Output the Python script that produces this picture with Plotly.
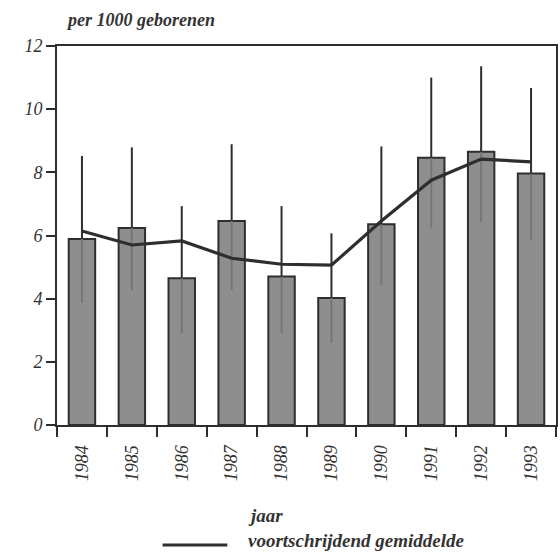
import plotly.graph_objects as go

years = ["1984", "1985", "1986", "1987", "1988", "1989", "1990", "1991", "1992", "1993"]
rate = [5.89, 6.24, 4.65, 6.46, 4.70, 4.02, 6.36, 8.46, 8.65, 7.96]
upper = [8.52, 8.79, 6.93, 8.89, 6.93, 6.07, 8.82, 11.00, 11.36, 10.67]
lower = [3.86, 4.27, 2.91, 4.27, 2.91, 2.60, 4.43, 6.23, 6.42, 5.85]
moving_avg = [6.14, 5.70, 5.83, 5.28, 5.09, 5.06, 6.46, 7.75, 8.42, 8.33]
y_ticks = [0, 2, 4, 6, 8, 10, 12]

FONT = "Liberation Serif, serif"
DARK = "#2e2e2e"

W, H = 560, 558
L, R, T, B = 57, 2, 46, 133
PW, PH = W - L - R, H - T - B


def px_x(p):
    return (p - L) / PW


def px_y(p):
    return (H - B - p) / PH


fig = go.Figure()

fig.add_trace(go.Bar(
    x=years, y=rate, width=0.53,
    marker=dict(color="#8e8e8e", line=dict(color=DARK, width=2)),
    showlegend=False, hoverinfo="skip",
))

# lower part of the interval (faint, inside the bar)
fig.add_trace(go.Scatter(
    x=years, y=rate, mode="markers",
    marker=dict(size=1, color="rgba(0,0,0,0)"),
    error_y=dict(type="data", symmetric=False,
                 array=[0] * len(rate),
                 arrayminus=[r - l for r, l in zip(rate, lower)],
                 color="#767676", thickness=2, width=0),
    showlegend=False, hoverinfo="skip",
))

# upper part of the interval
fig.add_trace(go.Scatter(
    x=years, y=rate, mode="markers",
    marker=dict(size=1, color="rgba(0,0,0,0)"),
    error_y=dict(type="data", symmetric=False,
                 array=[u - r for u, r in zip(upper, rate)],
                 arrayminus=[0] * len(rate),
                 color=DARK, thickness=2, width=0),
    showlegend=False, hoverinfo="skip",
))

fig.add_trace(go.Scatter(
    x=years, y=moving_avg, mode="lines",
    line=dict(color=DARK, width=3.2),
    name="voortschrijdend gemiddelde", showlegend=False, hoverinfo="skip",
))

fig.update_layout(
    width=W, height=H,
    margin=dict(l=L, r=R, t=T, b=B),
    paper_bgcolor="white", plot_bgcolor="white",
    font=dict(family=FONT, color="#333333"),
    xaxis=dict(
        type="category", range=[-0.5, 9.5],
        tickson="boundaries", ticks="outside", ticklen=10, tickwidth=1.5,
        tickcolor=DARK, tickangle=-90, ticklabelstandoff=11,
        tickfont=dict(family=FONT, size=18, style="italic", color="#333333"),
        showline=True, linecolor=DARK, linewidth=2, mirror=True,
        showgrid=False, zeroline=False,
    ),
    yaxis=dict(
        range=[0, 12], tickvals=y_ticks,
        ticks="outside", ticklen=9, tickwidth=1.5, tickcolor=DARK,
        tickfont=dict(family=FONT, size=18, style="italic", color="#333333"),
        showline=True, linecolor=DARK, linewidth=2, mirror=True,
        showgrid=False, zeroline=False,
    ),
    annotations=[
        dict(text="per 1000 geborenen", xref="paper", yref="paper",
             x=px_x(64), y=px_y(20), xanchor="left", yanchor="middle",
             showarrow=False,
             font=dict(family=FONT, size=18, style="italic", weight="bold", color="#333333")),
        dict(text="jaar", xref="paper", yref="paper",
             x=px_x(247), y=px_y(515), xanchor="left", yanchor="middle",
             showarrow=False,
             font=dict(family=FONT, size=19, style="italic", weight="bold", color="#333333")),
        dict(text="voortschrijdend gemiddelde", xref="paper", yref="paper",
             x=px_x(247), y=px_y(540), xanchor="left", yanchor="middle",
             showarrow=False,
             font=dict(family=FONT, size=19, style="italic", weight="bold", color="#333333")),
    ],
    shapes=[
        dict(type="line", xref="paper", yref="paper",
             x0=px_x(163), x1=px_x(228), y0=px_y(545), y1=px_y(545),
             line=dict(color=DARK, width=3.2)),
    ],
)

fig.write_html("out.html")
